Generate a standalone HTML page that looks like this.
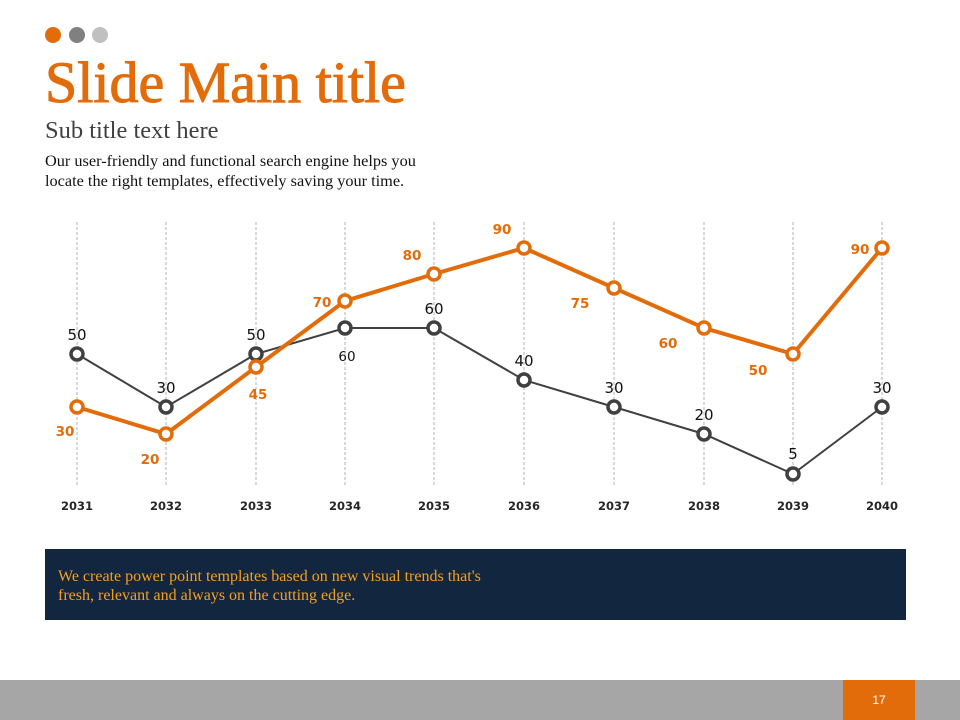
<!DOCTYPE html>
<html><head><meta charset="utf-8"><style>
body{margin:0;width:960px;height:720px;position:relative;background:#fff;overflow:hidden;font-family:"Liberation Serif",serif}
.dot{position:absolute;top:27px;width:16px;height:16px;border-radius:50%}
.t{position:absolute;left:45px;white-space:nowrap}
</style></head><body>
<div class="dot" style="left:45px;background:#e36c0a"></div>
<div class="dot" style="left:69px;background:#808080"></div>
<div class="dot" style="left:92px;background:#c0c0c0"></div>
<div class="t" style="top:49px;font-size:58px;color:#e36c0a;-webkit-text-stroke:1px #e36c0a">Slide Main title</div>
<div class="t" style="top:117px;font-size:24.5px;color:#404040">Sub title text here</div>
<div class="t" style="top:151px;font-size:16.3px;color:#111;line-height:20px">Our user-friendly and functional search engine helps you<br>locate the right templates, effectively saving your time.</div>
<svg style="position:absolute;left:0;top:0" width="960" height="720" font-family="DejaVu Sans, sans-serif">
<g stroke="#b0b0b0" stroke-width="1" stroke-dasharray="3,2">
<line x1="77" y1="222" x2="77" y2="487"/><line x1="166" y1="222" x2="166" y2="487"/><line x1="256" y1="222" x2="256" y2="487"/><line x1="345" y1="222" x2="345" y2="487"/><line x1="434" y1="222" x2="434" y2="487"/><line x1="524" y1="222" x2="524" y2="487"/><line x1="614" y1="222" x2="614" y2="487"/><line x1="704" y1="222" x2="704" y2="487"/><line x1="793" y1="222" x2="793" y2="487"/><line x1="882" y1="222" x2="882" y2="487"/>
</g>
<polyline fill="none" stroke="#404040" stroke-width="2" points="77,354 166,407 256,354 345,328 434,328 524,380 614,407 704,434 793,474 882,407"/>
<polyline fill="none" stroke="#e36c0a" stroke-width="4" points="77,407 166,434 256,367 345,301 434,274 524,248 614,288 704,328 793,354 882,248"/>
<g fill="#fff" stroke="#404040" stroke-width="3.5">
<circle cx="77" cy="354" r="6"/><circle cx="166" cy="407" r="6"/><circle cx="256" cy="354" r="6"/><circle cx="345" cy="328" r="6"/><circle cx="434" cy="328" r="6"/><circle cx="524" cy="380" r="6"/><circle cx="614" cy="407" r="6"/><circle cx="704" cy="434" r="6"/><circle cx="793" cy="474" r="6"/><circle cx="882" cy="407" r="6"/>
</g>
<g fill="#fff" stroke="#e36c0a" stroke-width="3.5">
<circle cx="77" cy="407" r="6"/><circle cx="166" cy="434" r="6"/><circle cx="256" cy="367" r="6"/><circle cx="345" cy="301" r="6"/><circle cx="434" cy="274" r="6"/><circle cx="524" cy="248" r="6"/><circle cx="614" cy="288" r="6"/><circle cx="704" cy="328" r="6"/><circle cx="793" cy="354" r="6"/><circle cx="882" cy="248" r="6"/>
</g>
<g fill="#111" font-size="15" text-anchor="middle">
<text x="77" y="340">50</text><text x="166" y="393">30</text><text x="256" y="340">50</text><text x="347" y="361" font-size="13.5">60</text><text x="434" y="314">60</text><text x="524" y="366">40</text><text x="614" y="393">30</text><text x="704" y="420">20</text><text x="793" y="459">5</text><text x="882" y="393">30</text>
</g>
<g fill="#e36c0a" font-size="13.5" font-weight="bold" text-anchor="middle">
<text x="65" y="436">30</text><text x="150" y="464">20</text><text x="258" y="399">45</text><text x="322" y="307">70</text><text x="412" y="260">80</text><text x="502" y="234">90</text><text x="580" y="308">75</text><text x="668" y="348">60</text><text x="758" y="375">50</text><text x="860" y="254">90</text>
</g>
<g fill="#262626" font-size="11.5" font-weight="bold" text-anchor="middle">
<text x="77" y="510">2031</text><text x="166" y="510">2032</text><text x="256" y="510">2033</text><text x="345" y="510">2034</text><text x="434" y="510">2035</text><text x="524" y="510">2036</text><text x="614" y="510">2037</text><text x="704" y="510">2038</text><text x="793" y="510">2039</text><text x="882" y="510">2040</text>
</g>
</svg>
<div style="position:absolute;left:45px;top:549px;width:861px;height:71px;background:#12263f"></div>
<div class="t" style="left:58px;top:567px;font-size:16px;color:#f5a020;line-height:19px">We create power point templates based on new visual trends that's<br>fresh, relevant and always on the cutting edge.</div>
<div style="position:absolute;left:0;top:680px;width:960px;height:40px;background:#a6a6a6"></div>
<div style="position:absolute;left:843px;top:680px;width:72px;height:40px;background:#e36c0a;color:#fff;font-family:'Liberation Sans',sans-serif;font-size:12px;text-align:center;line-height:40px">17</div>
</body></html>
